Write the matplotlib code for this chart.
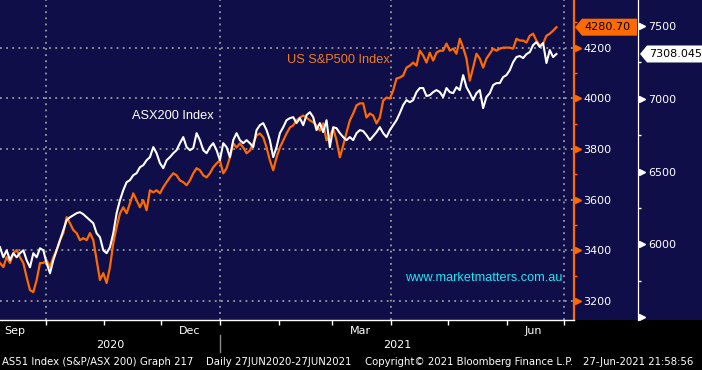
import matplotlib
matplotlib.use("Agg")
import matplotlib.pyplot as plt
import matplotlib.dates as mdates
from matplotlib.patches import Rectangle, Polygon
import pandas as pd

# daily closes, evenly spaced from first to last date
first_date = "2020-09-07"
last_date = "2021-06-27"

spx_close = [
    3350, 3334, 3373, 3350, 3389, 3401, 3373, 3350, 3294, 3243,
    3235, 3283, 3350, 3350, 3361, 3334, 3373, 3401, 3440, 3468,
    3531, 3507, 3480, 3468, 3440, 3448, 3440, 3468, 3440, 3361,
    3283, 3310, 3271, 3334, 3428, 3491, 3546, 3570, 3546, 3586,
    3625, 3598, 3570, 3598, 3558, 3637, 3629, 3637, 3625, 3649,
    3669, 3688, 3704, 3696, 3676, 3669, 3657, 3676, 3704, 3724,
    3716, 3696, 3688, 3704, 3728, 3743, 3755, 3704, 3724, 3767,
    3822, 3806, 3822, 3806, 3783, 3794, 3822, 3854, 3861, 3846,
    3806, 3755, 3716, 3767, 3806, 3834, 3861, 3885, 3893, 3913,
    3924, 3932, 3924, 3913, 3905, 3893, 3873, 3901, 3834, 3850,
    3881, 3834, 3767, 3814, 3865, 3913, 3940, 3972, 3980, 3980,
    3924, 3940, 3932, 3901, 3924, 3991, 4003, 3999, 4031, 4078,
    4082, 4090, 4121, 4129, 4141, 4129, 4188, 4169, 4141, 4180,
    4149, 4180, 4188, 4188, 4216, 4188, 4196, 4176, 4235, 4200,
    4157, 4070, 4121, 4176, 4157, 4121, 4157, 4176, 4196, 4188,
    4196, 4200, 4200, 4200, 4196, 4235, 4228, 4228, 4220, 4247,
    4255, 4228, 4208, 4216, 4247, 4255, 4267, 4280.70,
]

asx_close = [
    5980, 5911, 5959, 5891, 5939, 5911, 5939, 5959, 5891, 5842,
    5939, 5911, 5973, 5959, 5870, 5801, 5891, 5959, 6028, 6097,
    6166, 6186, 6200, 6214, 6221, 6207, 6186, 6166, 6145, 6076,
    6049, 5959, 5939, 5980, 6076, 6214, 6303, 6372, 6427, 6441,
    6475, 6489, 6530, 6544, 6578, 6599, 6668, 6626, 6558, 6523,
    6578, 6599, 6626, 6647, 6695, 6737, 6668, 6647, 6661, 6764,
    6716, 6647, 6626, 6668, 6695, 6647, 6578, 6695, 6668, 6599,
    6716, 6764, 6716, 6695, 6716, 6695, 6668, 6785, 6819, 6833,
    6785, 6716, 6599, 6668, 6764, 6805, 6853, 6867, 6874, 6833,
    6867, 6819, 6888, 6908, 6874, 6785, 6833, 6771, 6853, 6668,
    6805, 6798, 6764, 6737, 6716, 6737, 6716, 6764, 6785, 6778,
    6750, 6716, 6743, 6771, 6805, 6764, 6737, 6785, 6819, 6853,
    6902, 6957, 6991, 6977, 6991, 7046, 7074, 7074, 7019, 7025,
    7046, 7060, 7046, 7012, 7074, 7046, 7039, 7080, 7060, 7163,
    7080, 7039, 6991, 7039, 7060, 6936, 7012, 7039, 7094, 7108,
    7108, 7149, 7163, 7197, 7252, 7287, 7294, 7280, 7307, 7321,
    7369, 7390, 7356, 7383, 7246, 7335, 7287, 7308.045,
]

spx_ticks = [3200, 3400, 3600, 3800, 4000, 4200]
spx_minor = [3300, 3500, 3700, 3900, 4100, 4300]
asx_ticks = [6000, 6500, 7000, 7500]
asx_minor = [5750, 6250, 6750, 7250]
month_labels = ["Sep", "Dec", "Mar", "Jun"]
month_label_dates = ["2020-09-15", "2020-12-16", "2021-03-16", "2021-06-15"]
grid_dates = ["2020-10-01", "2021-01-01", "2021-04-01", "2021-07-01"]
years = ["2020", "2021"]
footer = [
    "AS51 Index (S&P/ASX 200) Graph 217",
    "Daily 27JUN2020-27JUN2021",
    "Copyright\u00a9 2021 Bloomberg Finance L.P.",
    "27-Jun-2021 21:58:56",
]

NAVY = "#100e48"
ORANGE = "#ff6a00"
W, H = 702, 370

dates = pd.date_range(first_date, last_date, periods=len(spx_close))
x_left = pd.Timestamp("2020-09-07")
x_right = pd.Timestamp("2021-07-06 06:00")

fig = plt.figure(figsize=(W / 100, H / 100), dpi=100, facecolor="black")
fig.patches.append(Rectangle((0, 50 / H), 1, 320 / H, transform=fig.transFigure,
                             facecolor=NAVY, edgecolor="none", zorder=-5))

ax = fig.add_axes([0, 50 / H, 574 / W, 320 / H])
ax.set_facecolor(NAVY)
ax.set_xlim(x_left, x_right)
ax.set_ylim(3125, 4388)

ax2 = ax.twinx()
ax2.set_ylim(5480, 7679)

ax.plot(dates, spx_close, color=ORANGE, lw=1.6, zorder=3)
ax2.plot(dates, asx_close, color="white", lw=1.5, zorder=3)

# grid
dot = (0, (1, 2.4))
for v in spx_ticks:
    ax.axhline(v, color="#9a9a9a", lw=1.3, ls=dot, zorder=1)
for d in grid_dates:
    ax.axvline(pd.Timestamp(d), color="#9a9a9a", lw=1.3, ls=dot, zorder=1)

# spines
for s in ["top", "left"]:
    ax.spines[s].set_visible(False)
    ax2.spines[s].set_visible(False)
ax2.spines["bottom"].set_visible(False)
ax.spines["bottom"].set_color("white")
ax.spines["bottom"].set_linewidth(1)
ax.spines["right"].set_color(ORANGE)
ax.spines["right"].set_linewidth(1.6)
ax2.spines["right"].set_position(("axes", 638 / 574))
ax2.spines["right"].set_color("white")
ax2.spines["right"].set_linewidth(0.9)

# S&P axis ticks (orange triangles)
ax.yaxis.tick_right()
ax.set_yticks(spx_ticks)
ax.set_yticks(spx_minor, minor=True)
ax.tick_params(axis="y", which="major", length=0, pad=6.5, labelcolor="white",
               labelsize=8)
ax.tick_params(axis="y", which="minor", length=2.5, width=1, color=ORANGE,
               direction="out")
ax.plot([1.0065] * len(spx_ticks), spx_ticks, ls="none", marker=">", ms=5,
        color=ORANGE, transform=ax.get_yaxis_transform(), clip_on=False, zorder=5)

# ASX axis ticks (white triangles)
ax2.set_yticks(asx_ticks)
ax2.set_yticks(asx_minor, minor=True)
ax2.tick_params(axis="y", which="major", length=0, pad=7.5, labelcolor="white",
                labelsize=8)
ax2.tick_params(axis="y", which="minor", length=2.5, width=1, color="white",
                direction="out")
ax2.plot([638 / 574 + 0.0065] * (len(asx_ticks) + 1), [5500] + asx_ticks, ls="none",
         marker=">", ms=5, color="white", transform=ax2.get_yaxis_transform(),
         clip_on=False, zorder=5)

# x axis: month ticks, quarter labels
ax.xaxis.set_major_locator(mdates.MonthLocator())
ax.xaxis.set_major_formatter(plt.NullFormatter())
ax.tick_params(axis="x", which="major", length=3.5, width=1, color="white",
               direction="out")
ax.set_xticks([pd.Timestamp(d) for d in month_label_dates], minor=True)
ax.set_xticklabels(month_labels, minor=True)
ax.tick_params(axis="x", which="minor", length=0, pad=4, labelcolor="white",
               labelsize=8)

xt = ax.get_xaxis_transform()
jan1 = pd.Timestamp("2021-01-01")
ax.text(x_left + (jan1 - x_left) / 2, -25 / 320, years[0], transform=xt,
        color="white", fontsize=8, ha="center", va="center")
ax.text(jan1 + (x_right - jan1) / 2, -25 / 320, years[1], transform=xt,
        color="white", fontsize=8, ha="center", va="center")
ax.plot([jan1, jan1], [-15 / 320, -32 / 320], color="#8a8a8a", lw=1,
        transform=xt, clip_on=False)

# series names
ax.text(287 / 574, 1 - 60 / 320, "US S&P500 Index", transform=ax.transAxes,
        color="#f07d1e", fontsize=9.2, family="Liberation Sans", ha="left",
        va="center")
ax.text(132 / 574, 1 - 116 / 320, "ASX200 Index", transform=ax.transAxes,
        color="white", fontsize=9.2, family="Liberation Sans", ha="left",
        va="center")
ax.text(405 / 574, 1 - 278 / 320, "www.marketmatters.com.au",
        transform=ax.transAxes, color="#1ee6f5", fontsize=9.2,
        family="Liberation Sans", ha="left", va="center")


# last-price tags
def price_tag(axis, value, text, face, x_tip, x_end):
    _, yd = axis.transData.transform((0, value))
    yc = H - yd  # pixels from top
    pts = [(x_tip, yc), (x_tip + 7, yc - 8.5), (x_end, yc - 8.5),
           (x_end, yc + 8.5), (x_tip + 7, yc + 8.5)]
    pts = [(px / W, 1 - py / H) for px, py in pts]
    fig.patches.append(Polygon(pts, closed=True, transform=fig.transFigure,
                               facecolor=face, edgecolor="none", zorder=6))
    fig.text((x_tip + 9) / W, 1 - yc / H, text, color="black", fontsize=8,
             ha="left", va="center", zorder=7)


price_tag(ax, spx_close[-1], "4280.70", ORANGE, 575, 637)
price_tag(ax2, asx_close[-1], "7308.045", "white", 640, 702)

# footer
footer_x = [2, 206, 365, 583]
for fx, t in zip(footer_x, footer):
    fig.text(fx / W, 1 - 362 / H, t, color="white", fontsize=7.3,
             ha="left", va="center")

fig.savefig("out.png", dpi=100, facecolor="black")
